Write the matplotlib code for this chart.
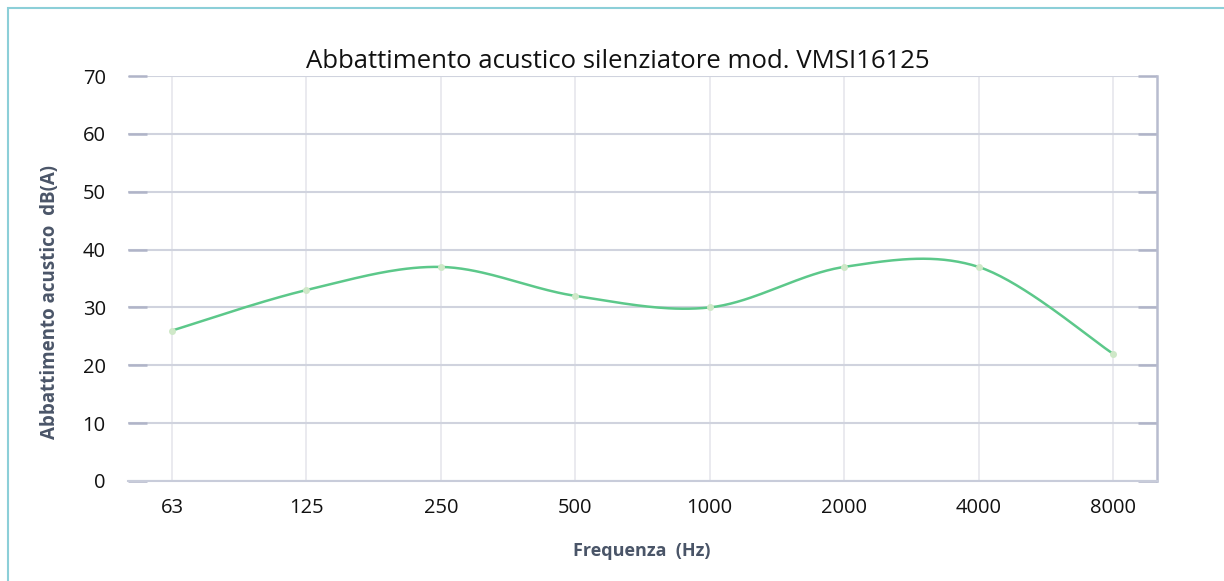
import numpy as np
import matplotlib
matplotlib.use("Agg")
import matplotlib.pyplot as plt
from matplotlib.patches import Rectangle

categories = ["63", "125", "250", "500", "1000", "2000", "4000", "8000"]
values = [26, 33, 37, 32, 30, 37, 37, 22]
title = "Abbattimento acustico silenziatore mod. VMSI16125"
xlabel = "Frequenza  (Hz)"
ylabel = "Abbattimento acustico  dB(A)"

W, H = 1224, 581
fig = plt.figure(figsize=(W / 100, H / 100), dpi=100)
plt.rcParams['font.family'] = ['Open Sans', 'DejaVu Sans']

# figure border (teal), only left/top visible
fig.add_artist(Rectangle((8 / W, -0.1), 1.2, (H - 8) / H + 0.1, transform=fig.transFigure,
                         fill=False, edgecolor="#8ccfd8", lw=1.5))

ax = fig.add_axes([128 / W, 1 - 481 / H, (1157 - 128) / W, (481 - 76) / H])

x = np.arange(len(categories))
y = np.array(values, dtype=float)

# Excel-like smooth line (Catmull-Rom Bezier)
def smooth(xp, yp, n=40):
    px = np.concatenate([[xp[0]], xp, [xp[-1]]])
    py = np.concatenate([[yp[0]], yp, [yp[-1]]])
    xs, ys = [], []
    t = np.linspace(0, 1, n)
    for i in range(1, len(px) - 2):
        p0 = np.array([px[i], py[i]])
        p3 = np.array([px[i + 1], py[i + 1]])
        c1 = p0 + (np.array([px[i + 1], py[i + 1]]) - np.array([px[i - 1], py[i - 1]])) / 6
        c2 = p3 - (np.array([px[i + 2], py[i + 2]]) - np.array([px[i], py[i]])) / 6
        b = ((1 - t) ** 3)[:, None] * p0 + (3 * (1 - t) ** 2 * t)[:, None] * c1 + \
            (3 * (1 - t) * t ** 2)[:, None] * c2 + (t ** 3)[:, None] * p3
        xs.append(b[:, 0]); ys.append(b[:, 1])
    return np.concatenate(xs), np.concatenate(ys)

sx, sy = smooth(x, y)
ax.plot(sx, sy, color="#5cc88a", lw=1.8, zorder=3)
ax.plot(x, y, ls="none", marker="o", ms=4, mfc="#cfe8c8", mec="#cfe8c8", zorder=4)

ax.set_xlim(-0.327, len(categories) - 1 + 0.327)
ax.set_ylim(0, 70)
ax.set_yticks(range(0, 71, 10))
ax.set_xticks(x)
ax.set_xticklabels(categories)

ax.grid(True, axis="y", color="#d0d3de", lw=1.5)
ax.grid(True, axis="x", color="#e6e6ec", lw=1.2)
ax.set_axisbelow(True)

for s in ["top", "left"]:
    ax.spines[s].set_visible(False)
ax.spines["bottom"].set_color("#c8ccda")
ax.spines["bottom"].set_linewidth(1.5)
ax.spines["right"].set_color("#b8bccf")
ax.spines["right"].set_linewidth(1.8)

ax.tick_params(axis="y", which="both", direction="in", length=14, width=1.8,
               color="#b0b4c8", left=True, right=True, labelsize=14.5, pad=16,
               labelcolor="#111111")
ax.tick_params(axis="x", length=0, labelsize=14.5, pad=12, labelcolor="#111111")

fig.text(618 / W, 1 - 62 / H, title, fontsize=18.5, color="#111111",
         ha="center", va="center")
ax.set_xlabel(xlabel, fontsize=13, fontweight="bold", color="#4a5568")
ax.set_ylabel(ylabel, fontsize=13.5, fontweight="bold", color="#4a5568")
inv = ax.transAxes.inverted()
ax.xaxis.set_label_coords(*inv.transform((642, H - 551)))
ax.xaxis.label.set_va("center")
ax.yaxis.set_label_coords(*inv.transform((50, H - 302)))
ax.yaxis.label.set_va("center")

fig.savefig("out.png", dpi=100)
